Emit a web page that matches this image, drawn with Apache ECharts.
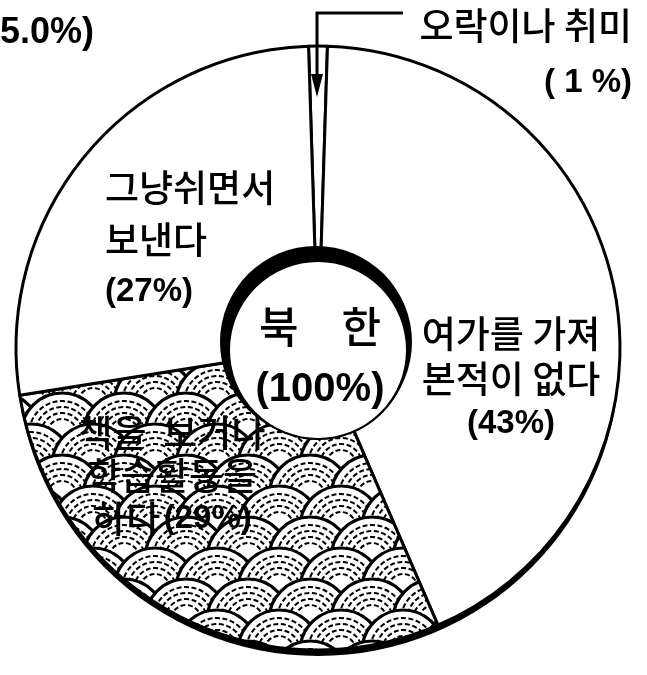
<!DOCTYPE html>
<html>
<head>
<meta charset="utf-8">
<script src="https://cdn.jsdelivr.net/npm/echarts@6/dist/echarts.min.js"></script>
<style>
  html, body { margin: 0; padding: 0; background: #fff; }
  #chart { width: 647px; height: 675px; }
</style>
</head>
<body>
<div id="chart"></div>
<script>
// 북한 여가 활용 (%)
const categories = ['오락이나 취미', '여가를 가져 본적이 없다', '책을 보거나 학습활동을 하다', '그냥쉬면서 보낸다'];
const values = [1, 43, 29, 27];
const labelTexts = [
  '{k|오락이나 취미}\n{p|( 1 %)}',
  '{k|여가를 가져}\n{k|본적이 없다}\n{p|(43%)}',
  '{k|책을  보거나}\n{k|학습활동을}\n{k|하다} {p|(29%)}',
  '{k|그냥쉬면서}\n{k|보낸다}\n{p|(27%)}'
];
const totalName = '북　한';
const totalValue = 100;

// label placement (layout only)
const labelPos = [
  { x: 632, y: 54, align: 'right', lh: 57 },
  { x: 511, y: 379, align: 'center', lh: 45 },
  { x: 172, y: 476, align: 'center', lh: 43 },
  { x: 105, y: 240, align: 'left', lh: 52 }
];

const FONT = "'Liberation Sans', 'Noto Sans CJK KR', sans-serif";
const KFONT = "'Noto Sans CJK KR', sans-serif";

// fish-scale texture for the hatched slice
function makeScales() {
  const sx = 62, sy = 31, R = 41;
  const c = document.createElement('canvas');
  c.width = sx;
  c.height = sy * 2;
  const g = c.getContext('2d');
  g.fillStyle = '#fff';
  g.fillRect(0, 0, c.width, c.height);
  for (let j = -3; j <= 5; j++) {
    const y = j * sy;
    const off = (Math.abs(j) % 2 === 1) ? sx / 2 : 0;
    for (let i = -2; i <= 2; i++) {
      const x = i * sx + off;
      g.setLineDash([]);
      g.beginPath();
      g.arc(x, y, R, 0, Math.PI * 2);
      g.fillStyle = '#fff';
      g.fill();
      g.lineWidth = 3.2;
      g.strokeStyle = '#000';
      g.stroke();
      g.lineWidth = 2;
      g.setLineDash([5, 2.5]);
      [R - 8, R - 14, R - 20, R - 26].forEach(function (rr) {
        g.beginPath();
        g.arc(x, y, rr, Math.PI * 0.9, Math.PI * 2.1);
        g.stroke();
      });
    }
  }
  return c;
}

const scalePattern = { image: makeScales(), repeat: 'repeat' };
const sliceFill = ['#fff', '#fff', scalePattern, '#fff'];

const chartDom = document.getElementById('chart');
const myChart = echarts.init(chartDom);

const option = {
  backgroundColor: '#fff',
  animation: false,
  series: [
    {
      // outer rim shadow
      type: 'pie',
      silent: true,
      z: 1,
      center: [318, 354],
      radius: [0, 302],
      label: { show: false },
      labelLine: { show: false },
      data: [{ value: 1, itemStyle: { color: '#000' } }]
    },
    {
      name: '북한',
      type: 'pie',
      silent: true,
      z: 2,
      center: [318, 348],
      radius: [90, 302],
      startAngle: 91.8,
      clockwise: true,
      itemStyle: { borderColor: '#000', borderWidth: 3 },
      label: {
        show: true,
        position: 'inside',
        color: '#000',
        fontFamily: FONT,
        formatter: function (p) { return labelTexts[p.dataIndex]; }
      },
      labelLine: { show: false },
      labelLayout: function (params) {
        const p = labelPos[params.dataIndex];
        return { x: p.x, y: p.y, align: p.align, verticalAlign: 'middle' };
      },
      data: values.map(function (v, i) {
        return {
          name: categories[i],
          value: v,
          itemStyle: { color: sliceFill[i] },
          label: {
            align: labelPos[i].align,
            rich: {
              k: { fontSize: 37, lineHeight: labelPos[i].lh, fontFamily: KFONT, fontWeight: 500, color: '#000' },
              p: { fontSize: 33, lineHeight: labelPos[i].lh, fontFamily: FONT, fontWeight: 'bold', color: '#000' }
            }
          }
        };
      })
    },
    {
      // crescent shadow of the centre disk
      type: 'pie',
      silent: true,
      z: 3,
      center: [316, 342],
      radius: [0, 96],
      label: { show: false },
      labelLine: { show: false },
      data: [{ value: 1, itemStyle: { color: '#000' } }]
    },
    {
      type: 'pie',
      silent: true,
      z: 4,
      center: [318, 350],
      radius: [0, 89],
      itemStyle: { color: '#fff', borderColor: '#000', borderWidth: 2 },
      label: {
        show: true,
        position: 'center',
        color: '#000',
        fontFamily: FONT,
        formatter: function (p) { return '{a|' + p.name + '}\n{b|(' + p.value + '%)}'; },
        rich: {
          a: { fontSize: 43, lineHeight: 63, fontFamily: KFONT, fontWeight: 500, color: '#000' },
          b: { fontSize: 40, lineHeight: 63, fontFamily: FONT, fontWeight: 'bold', color: '#000' }
        }
      },
      labelLayout: function () {
        return { x: 320, y: 358, align: 'center', verticalAlign: 'middle' };
      },
      labelLine: { show: false },
      data: [{ name: totalName, value: totalValue }]
    }
  ],
  graphic: [
    {
      type: 'polyline',
      z: 10,
      shape: { points: [[403, 13], [317, 13], [317, 80]] },
      style: { stroke: '#000', lineWidth: 3, fill: null }
    },
    {
      type: 'polygon',
      z: 10,
      shape: { points: [[311, 74], [323, 74], [317, 97]] },
      style: { fill: '#000' }
    },
    {
      type: 'text',
      z: 10,
      left: 0,
      top: 15,
      style: { text: '5.0%)', font: 'bold 36px ' + FONT, fill: '#000' }
    }
  ]
};

option && myChart.setOption(option);
</script>
</body>
</html>
